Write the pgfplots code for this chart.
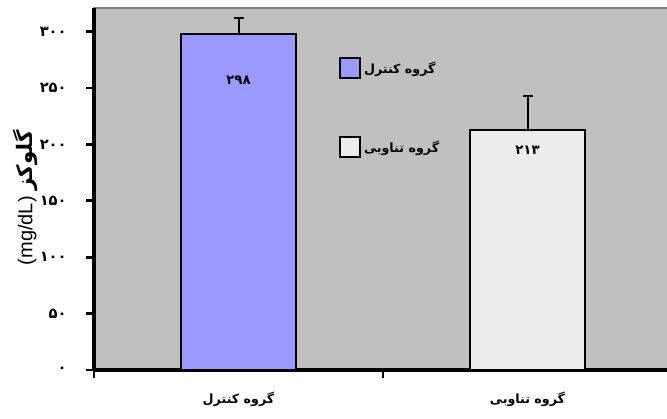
\documentclass[border=0pt]{standalone}
\usepackage{pgfplots}
\pgfplotsset{compat=1.18}
\usepackage{pgfplotstable}
\usepackage{fontspec}
\setmainfont{Liberation Sans}
\newfontfamily\fa[Script=Arabic]{DejaVu Sans}
\TeXXeTstate=1

\definecolor{plotbg}{HTML}{C0C0C0}
\definecolor{ctrlfill}{HTML}{9999FF}
\definecolor{intfill}{HTML}{ECECEC}
\definecolor{framegray}{HTML}{808080}

% x y err label
\pgfplotstableread{
x y err lab
0 298 14 ۲۹۸
}\tabctrl
\pgfplotstableread{
x y err lab
1 213 30 ۲۱۳
}\tabint

\begin{document}
\begin{tikzpicture}
\useasboundingbox (0,0) rectangle (500.25pt,313.5pt);
\begin{axis}[
    at={(70.5pt,36pt)}, anchor=south west,
    scale only axis, width=433.5pt, height=271.3pt,
    xmin=-0.5, xmax=1.5, ymin=0, ymax=320.7,
    axis background/.style={fill=plotbg, draw=framegray, line width=1.5pt},
    axis x line=bottom, axis y line=left,
    x axis line style={-, black, line width=2.6pt},
    y axis line style={-, black, line width=2.6pt},
    tick align=outside, major tick length=6pt,
    tick style={black, line width=2pt},
    ytick={0,50,...,300},
    yticklabels={۰,۵۰,۱۰۰,۱۵۰,۲۰۰,۲۵۰,۳۰۰},
    yticklabel style={font=\fa\bfseries\fontsize{11}{12}\selectfont, xshift=-11pt},
    xtick={-0.5,0.5,1.5}, xticklabels={},
    extra x ticks={0,1},
    extra x tick labels={{\fa\bfseries\beginR گروه کنترل\endR},{\fa\bfseries\beginR گروه تناوبی\endR}},
    extra x tick style={major tick length=0pt, tick style={draw=none},
      xticklabel style={font=\fontsize{9.5}{12}\selectfont, yshift=-13pt}},
    ylabel={\fontsize{15}{17}\selectfont\beginL(mg/dL)\endL\ {\fa\bfseries\fontsize{16}{18}\selectfont\beginR گلوکز\endR}},
    ylabel style={at={(axis description cs:-0.119,0.476)}, anchor=center},
    ybar, bar width=0.4, bar shift=0pt,
    point meta=explicit symbolic,
    error bars/y dir=plus, error bars/y explicit,
    error bars/error mark=-,
    error bars/error bar style={black, line width=1.5pt},
    error bars/error mark options={rotate=90, black, line width=1.5pt, mark size=3.75pt},
    legend image code/.code={\draw[#1, draw=black, line width=1.5pt] (0pt,-7.5pt) rectangle (15pt,7.5pt);},
    legend style={at={(0.424,0.865)}, anchor=north west, draw=none, fill=none,
      inner sep=0pt, row sep=42.75pt, cells={anchor=west},
      font=\fa\bfseries\fontsize{9.5}{12}\selectfont},
  ]
  \addplot[fill=ctrlfill, draw=black, line width=1.6pt,
    nodes near coords,
    nodes near coords style={anchor=center, yshift=-34.5pt, black,
      font=\fa\bfseries\fontsize{10}{12}\selectfont}]
    table[x=x, y=y, y error=err, meta=lab] {\tabctrl};
  \addlegendentry{\beginR گروه کنترل\endR}
  \addplot[fill=intfill, draw=black, line width=1.6pt,
    nodes near coords,
    nodes near coords style={anchor=center, yshift=-15.75pt, black,
      font=\fa\bfseries\fontsize{10}{12}\selectfont}]
    table[x=x, y=y, y error=err, meta=lab] {\tabint};
  \addlegendentry{\beginR گروه تناوبی\endR}
\end{axis}
\end{tikzpicture}
\end{document}
